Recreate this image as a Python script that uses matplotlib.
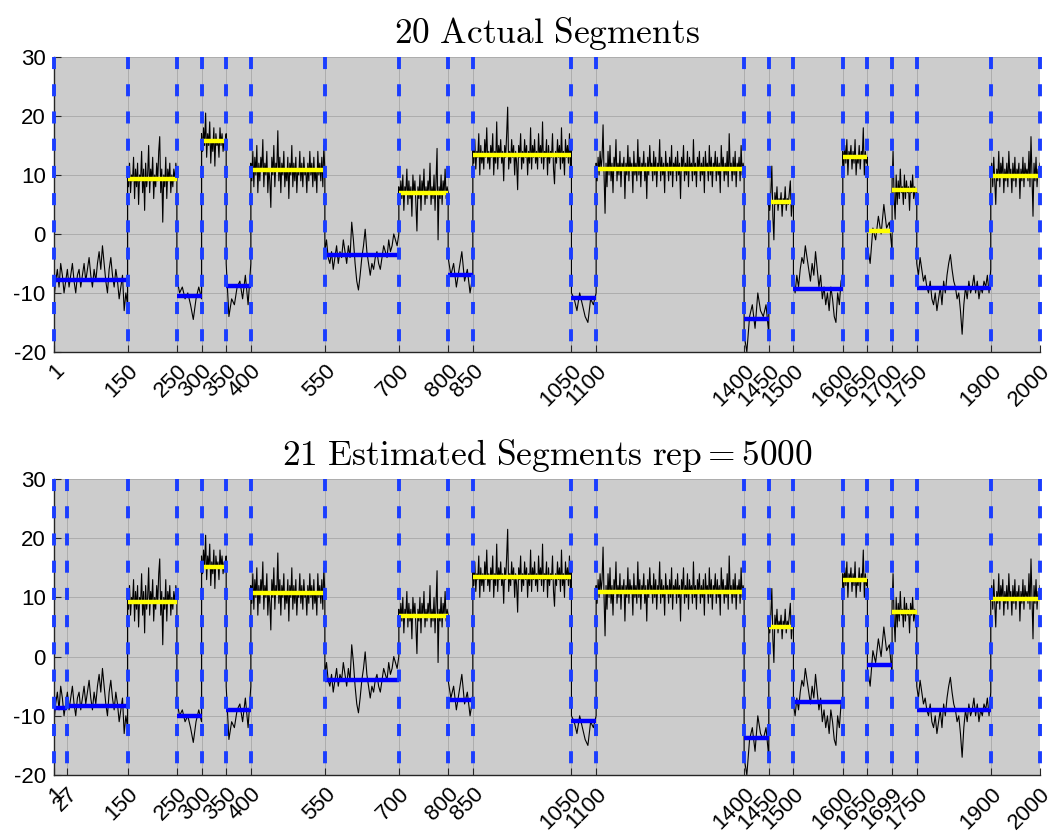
import numpy as np
import matplotlib
matplotlib.use("Agg")
import matplotlib.pyplot as plt

matplotlib.rcParams.update({'font.size': 16,
                            'font.family': 'Liberation Sans',
                            'mathtext.fontset': 'cm',
                            'axes.unicode_minus': False})

# change points, first and last sample included
true_cps = [1, 150, 250, 300, 350, 400, 550, 700, 800, 850, 1050,
            1100, 1400, 1450, 1500, 1600, 1650, 1700, 1750, 1900, 2000]
est_cps = [1, 27, 150, 250, 300, 350, 400, 550, 700, 800, 850, 1050,
           1100, 1400, 1450, 1500, 1600, 1650, 1699, 1750, 1900, 2000]

# segment means
true_means = [-7.8, 9.4, -10.6, 15.7, -8.8, 10.8, -3.6, 6.9, -7.0, 13.4,
              -10.8, 11.0, -14.5, 5.5, -9.4, 13.0, 0.5, 7.5, -9.1, 9.8]
est_means = [-8.7, -8.3, 9.2, -10.0, 15.2, -9.1, 10.7, -3.9, 6.9, -7.3, 13.4,
             -10.9, 10.9, -13.7, 5.0, -7.7, 12.9, -1.4, 7.6, -9.1, 9.7]
n_rep = 5000

# observed signal, one list per true segment
seg01 = [-11, -8, -6, -9, -5, -7, -10, -8, -6, -9, -7, -5, -8, -10, -7,
         -6, -9, -7, -5, -8, -6, -4, -7, -9, -6, -8, -5, -3, -6, -2,
         -5, -8, -10, -6, -4, -7, -9, -6, -8, -11, -9, -7, -13, -10, -12]
seg02 = [11, 8, 12, 7, 10, 9, 13, 6, 11, 8, 12, 5, 10, 9, 14, 7, 11, 4, 12, 8,
         10, 15, 7, 11, 9, 13, 6, 10, 8, 12, 9, 14, 16.5, 7, 11, 2, 10, 8, 13, 6,
         11, 9, 12, 7, 10, 8, 11, 9, 12, 10]
seg03 = [-7.5, -10, -9, -11, -10, -12, -14.5, -11, -9, -11]
seg04 = [17, 14, 18, 15, 20.5, 13, 17, 15, 19, 12, 16, 14, 18, 11.5, 17, 15,
         16, 13, 18, 15, 17, 14, 16, 15, 17]
seg05 = [-5, -14, -11, -12, -9, -8, -11, -7, -12, -5]
seg06 = [12, 9, 14, 8, 13, 10, 15, 7, 12, 9, 13, 11, 16, 8, 12, 10, 14, 7, 11, 9,
         4.5, 13, 10, 15, 8, 12, 11, 17.5, 9, 13, 7, 12, 10, 14, 8, 11, 9, 13, 6, 12,
         10, 15, 8, 12, 9, 13, 7, 11, 10, 14, 9, 12, 8, 13, 10, 11, 7, 12, 9, 14,
         10, 12, 8, 13, 9, 11, 7, 14, 10, 12, 9, 13, 8, 15, 11]
seg07 = [-3, -1, -4, -5, -3, -6, -4, -2, -5, -3, -4, -1, -3, -5, -2,
         -4, 2, -1, -5, -8, -9.5, -7, -4, -2, 0.8, -3, -5, -7, -5, -6,
         -4, -3, -5, -6, -4, -2, -3, -4, -1, -3, -2, 0, -1, -2, 0]
seg08 = [8, 5, 9, 6, 10, 4, 8, 7, 11, 5, 9, 6, 8, 3, 10, 7, 9, 5, 0.5, 8,
         6, 10, 4, 9, 7, 11, 5, 8, 6, 9, 7, 12, 5, 8, 6, 10, 4, 9, 14.5, -1,
         8, 6, 10, 5, 9, 7, 11, 6, 8, 7]
seg09 = [-4, -7, -5, -9, -6, -3, -8, -6, -10, -7]
seg10 = [15, 12, 16, 11, 14, 13, 17, 10, 15, 12, 14, 11, 16, 13, 18, 12, 14, 11, 15, 13,
         17, 10, 14, 12, 19, 11, 15, 13, 16, 12, 14, 9, 15, 13, 17, 21.5, 11, 14, 12, 16,
         13, 15, 10, 14, 12, 7.5, 15, 13, 17, 11, 14, 12, 16, 13, 15, 10, 14, 12, 18, 11,
         15, 13, 16, 12, 14, 11, 17, 13, 15, 12, 19, 11, 14, 13, 16, 10, 15, 12, 14, 13,
         17, 11, 8.5, 14, 12, 16, 13, 15, 11, 18, 12, 14, 10, 16, 13, 15, 12, 17, 11, 15]
seg11 = [-10, -11, -13, -10, -12, -14, -15, -11, -12, -10]
seg12 = [12, 9, 13, 10, 14, 11, 13, 18.5, 10, 3.5, 12, 8, 14, 10, 15, 9, 12, 7, 13, 11,
         16, 9, 12, 10, 14, 8, 12, 11, 13, 6, 12, 10, 15, 9, 13, 11, 12, 7, 14, 10,
         12, 9, 16, 10, 13, 8, 12, 11, 14, 9, 12, 6, 13, 10, 15, 11, 12, 9, 14, 10,
         13, 8, 12, 11, 16, 9, 13, 10, 12, 7, 14, 11, 12, 9, 13, 10, 15, 8, 12, 11,
         13, 9, 14, 10, 12, 6, 13, 11, 15, 9, 12, 10, 14, 8, 13, 11, 12, 9, 16, 10,
         12, 8, 13, 11, 14, 9, 12, 10, 13, 7, 14, 11, 12, 9, 15, 10, 13, 8, 12, 11,
         14, 9, 13, 10, 12, 7, 15, 11, 13, 9, 12, 10, 14, 8, 17, 11, 12, 9, 13, 10,
         14, 8, 12, 11, 13, 9, 15, 10, 12, 11]
seg13 = [-17, -20, -14, -12, -16, -10, -13, -14, -12, -17]
seg14 = [6, 4, 7, 11.5, 3, -1, 7, 5, 8, 4, 6, 5, 7, 3, 6, 5, 8, 4, 6, 5,
         7, 9, 3, 6, 5]
seg15 = [-8, -10, -7, -9, -6, -4, -5, -2, -4, -6, -8, -5, -7, -3, -6,
         -9, -7, -11, -9, -12, -10, -13, -9, -11, -14, -15, -10, -12, -8, -7]
seg16 = [14, 11, 15, 12, 16, 10, 14, 13, 15, 11, 14, 12, 16, 10, 13, 12, 15, 11,
         14, 13, 18, 10, 14, 12, 13]
seg17 = [-2, -5, 1, -1, 3, 0, 5, 1, 2, -3]
seg18 = [9, 14, 6, 2.5, 10, 5, 9, 6, 11, 7, 8, 5, 10, 6, 9, 7, 8, 4, 9, 7,
         10, 6, 8, 5, 7]
seg19 = [-5, -7, -4, -6, -8, -7, -9, -10, -8, -11, -12, -10, -13, -11, -9,
         -12, -8, -10, -7, -5, -3.5, -6, -8, -9, -11, -10, -13, -17, -12, -9,
         -11, -8, -10, -9, -7, -10, -8, -11, -9, -10, -8, -9, -7, -10, -6]
seg20 = [10, 12, 8, 13, 9, 5, 11, 9, 14, 8, 12, 10, 13, 7, 11, 9, 12, 8, 14, 10,
         11, 7, 12, 9, 13, 8, 11, 10, 12, 6, 11, 9, 13, 8, 12, 10, 11, 9, 14, 8,
         16.5, 10, 3, 12, 9, 13, 8, 11, 10, 12]

segments = [seg01, seg02, seg03, seg04, seg05, seg06, seg07, seg08, seg09,
            seg10, seg11, seg12, seg13, seg14, seg15, seg16, seg17, seg18,
            seg19, seg20]

# spread each segment's samples between its change points
sig_x = np.concatenate([np.linspace(true_cps[k], true_cps[k + 1], len(v))
                        for k, v in enumerate(segments)])
sig_y = np.concatenate([np.asarray(v, dtype=float) for v in segments])


def draw_panel(ax, cps, means, title):
    ax.set_facecolor('#cccccc')
    ax.plot(sig_x, sig_y, color='black', lw=0.8, zorder=2)

    for k, m in enumerate(means):
        ax.plot([cps[k], cps[k + 1]], [m, m], color='#ffff00' if m > 0 else '#0000ff',
                lw=3.2, solid_capstyle='butt', zorder=3)

    for c in cps:
        ax.plot([c, c], [30, -20], color='#1a3dff', lw=2.8, dashes=(3.1, 3.9),
                clip_on=False, zorder=4)

    ax.set_xlim(1, 2000)
    ax.set_ylim(-20, 30)
    ax.set_yticks([-20, -10, 0, 10, 20, 30])
    ax.set_xticks(cps)
    ax.set_xticklabels([str(c) for c in cps], rotation=45, ha='right',
                       rotation_mode='anchor')
    ax.grid(True, color='#a8a8a8', lw=0.6)
    ax.set_axisbelow(True)
    ax.tick_params(direction='in', length=5, width=0.8, colors='#262626',
                   labelcolor='black', labelsize=16, pad=6)
    for side in ('top', 'right'):
        ax.spines[side].set_visible(False)
    for side in ('left', 'bottom'):
        ax.spines[side].set_color('#262626')
        ax.spines[side].set_linewidth(1.0)
    ax.set_title(title, fontsize=25.5, pad=10)


fig = plt.figure(figsize=(10.53, 8.32), dpi=100)

ax_top = fig.add_axes([0.0513, 0.577, 0.9364, 0.3545])
draw_panel(ax_top, true_cps, true_means,
           r'$\mathrm{%d\ Actual\ Segments}$' % len(true_means))

ax_bot = fig.add_axes([0.0513, 0.0685, 0.9364, 0.3558])
draw_panel(ax_bot, est_cps, est_means,
           r'$\mathrm{%d\ Estimated\ Segments\ rep} = %d$' % (len(est_means), n_rep))

fig.savefig('out.png', dpi=100)
